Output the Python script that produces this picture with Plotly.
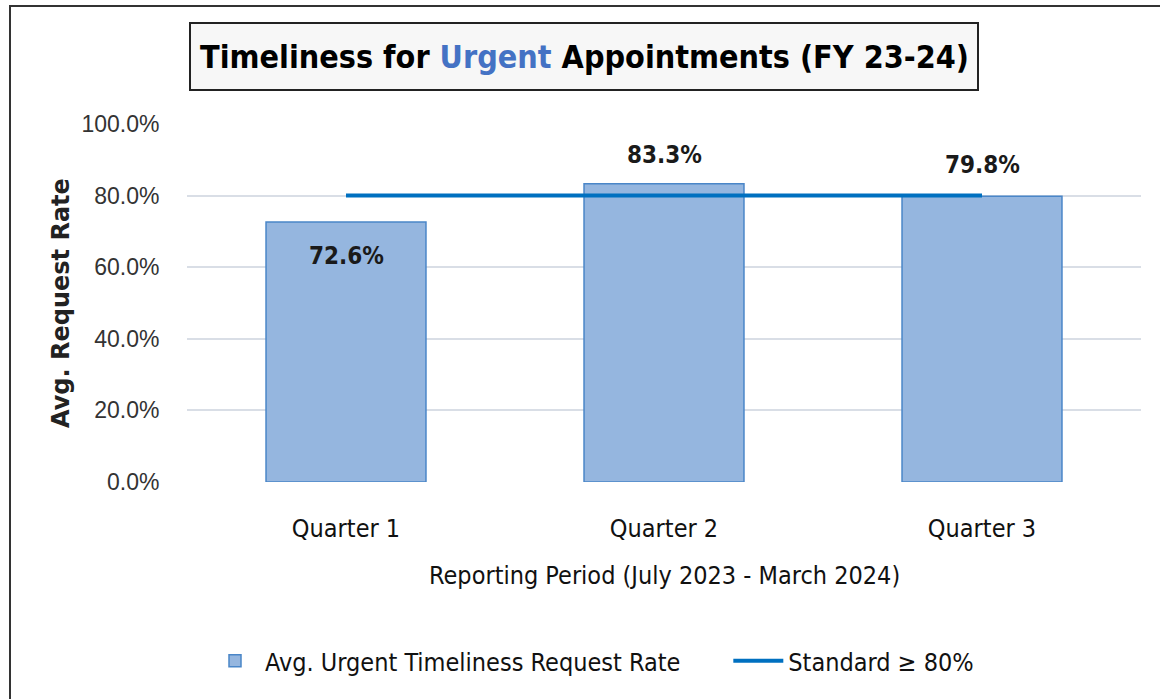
import plotly.graph_objects as go

categories = ["Quarter 1", "Quarter 2", "Quarter 3"]
rates = [72.6, 83.3, 79.8]
standard = [80, 80, 80]
label_shift = [-34, 29, 31]
yticks = [0, 20, 40, 60, 80, 100]
ytick_text = ["0.0%", "20.0%", "40.0%", "60.0%", "80.0%", "100.0%"]

W, H = 1160, 699
L, R, T, B = 187, 1141, 124, 482

def px(x):
    return (x - L) / (R - L)

def py(y):
    return (B - y) / (B - T)

FONT = "Liberation Sans Narrow, Arial Narrow, DejaVu Sans Condensed, sans-serif"

fig = go.Figure()
fig.add_trace(go.Bar(
    x=categories, y=rates, name="Avg. Urgent Timeliness Request Rate\u00a0\u00a0\u00a0\u00a0\u00a0\u00a0",
    marker=dict(color="#95B6DF", line=dict(color="#4A86C8", width=1.5)),
    width=0.503,
))
fig.add_trace(go.Scatter(
    x=categories, y=standard, name="Standard \u2265 80%", mode="lines",
    line=dict(color="#0070C0", width=4),
))

for c, v, s in zip(categories, rates, label_shift):
    fig.add_annotation(x=c, y=v, text="<b>%.1f%%</b>" % v, showarrow=False,
                       yshift=s, font=dict(size=24, color="#1a1a1a", family=FONT))

# title box
fig.add_shape(type="rect", xref="paper", yref="paper",
              x0=px(190), x1=px(978), y0=py(90), y1=py(23),
              fillcolor="#F7F7F7", line=dict(color="#222222", width=2), layer="below")
fig.add_annotation(xref="paper", yref="paper", x=px(584), y=py(57),
                   text="<b>Timeliness for <span style='color:#4472C4'>Urgent</span> Appointments (FY 23-24)</b>",
                   showarrow=False, font=dict(size=32, color="#000000", family=FONT),
                   xanchor="center", yanchor="middle")
# outer frame
fig.add_shape(type="rect", xref="paper", yref="paper",
              x0=px(10), x1=px(1175), y0=py(715), y1=py(6),
              line=dict(color="#333333", width=2), layer="below")

# axis titles
fig.add_annotation(xref="paper", yref="paper", x=px(61), y=py(303),
                   text="<b>Avg. Request Rate</b>", textangle=-90, showarrow=False,
                   font=dict(size=24, color="#222222", family="DejaVu Sans, sans-serif"),
                   xanchor="center", yanchor="middle")
fig.add_annotation(xref="paper", yref="paper", x=px(664), y=py(575),
                   text="Reporting Period (July 2023 - March 2024)", showarrow=False,
                   font=dict(size=25, color="#111111", family=FONT),
                   xanchor="center", yanchor="middle")

fig.update_layout(
    width=W, height=H,
    margin=dict(l=L, r=W - R, t=T, b=H - B, autoexpand=False),
    paper_bgcolor="white", plot_bgcolor="white",
    showlegend=True,
    legend=dict(orientation="h", x=px(205), y=py(638), xanchor="left", yanchor="top",
                font=dict(size=25, color="#111111", family=FONT),
                itemwidth=50, bgcolor="rgba(0,0,0,0)"),
    bargap=0.5,
)
fig.update_xaxes(showgrid=False, showline=False, ticks="outside", ticklen=24,
                 tickcolor="rgba(0,0,0,0)",
                 tickfont=dict(size=25, color="#111111", family=FONT))
fig.update_yaxes(range=[0, 100], tickvals=yticks, ticktext=ytick_text,
                 showgrid=True, gridcolor="#D9DEE6", gridwidth=1.5, zeroline=False,
                 showline=False, ticks="outside", ticklen=22, tickcolor="rgba(0,0,0,0)",
                 tickfont=dict(size=23, color="#333333", family="Liberation Sans, Arial, sans-serif"))

fig.write_html("out.html")
